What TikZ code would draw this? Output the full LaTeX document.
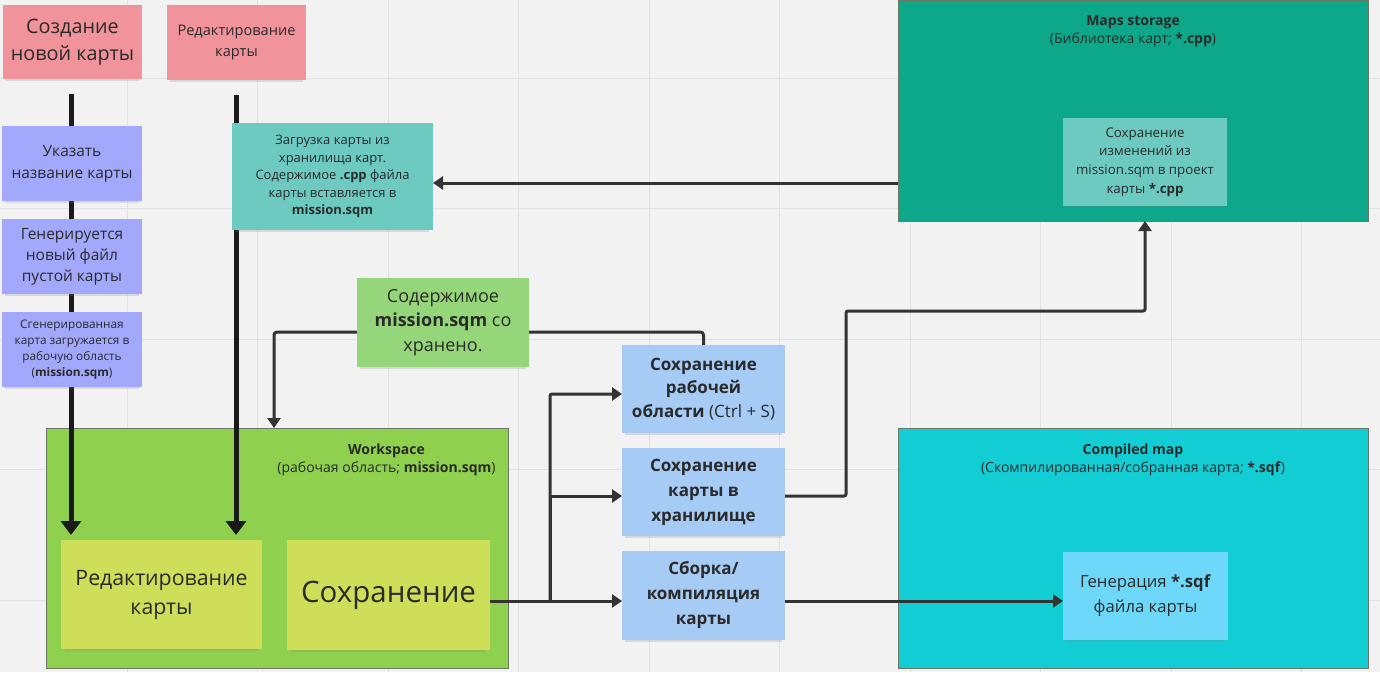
\documentclass[tikz,border=0pt]{standalone}
\usepackage{fontspec}
\setmainfont{Open Sans}
\usetikzlibrary{arrows.meta,shadows,calc}
\definecolor{bgc}{HTML}{F2F2F2}
\definecolor{gridc}{HTML}{E2E2E2}
\definecolor{txt}{HTML}{2A2A2A}
\definecolor{pinkn}{HTML}{F1939B}
\definecolor{purpn}{HTML}{A2A9FC}
\definecolor{tealn}{HTML}{6DCAC0}
\definecolor{greenn}{HTML}{96D67A}
\definecolor{wsc}{HTML}{8FD14F}
\definecolor{yellown}{HTML}{CEDE58}
\definecolor{bluen}{HTML}{A6CCF5}
\definecolor{msc}{HTML}{0DA789}
\definecolor{cmc}{HTML}{12CDD4}
\definecolor{cyann}{HTML}{6DD8FA}
\definecolor{blk}{HTML}{1A1A1A}
\definecolor{conc}{HTML}{333333}
\definecolor{bordc}{HTML}{6B7866}
\pgfdeclarelayer{gridlayer}
\pgfdeclarelayer{contlayer}
\pgfdeclarelayer{linelayer}
\pgfsetlayers{gridlayer,contlayer,linelayer,main}
\begin{document}
\begin{tikzpicture}[x=1pt,y=-1pt,
  note/.style={align=center, text=txt, inner sep=2pt, outer sep=0pt,
    drop shadow={shadow xshift=0pt,shadow yshift=-4pt,shadow scale=0.96,opacity=0.22}},
  container/.style={draw=bordc, line width=1pt, inner sep=0pt, outer sep=0pt},
  ctitle/.style={align=center, text=txt, font=\fontsize{14}{18}\selectfont},
  thickarrow/.style={draw=blk, line width=5pt, -{Triangle[length=14pt,width=20pt]}},
  conn/.style={draw=conc, line width=3pt, -{Triangle[length=10pt,width=13pt]}},
  connline/.style={draw=conc, line width=3pt}
]
\useasboundingbox (0,0) rectangle (1380,672);
\begin{pgfonlayer}{gridlayer}
  \fill[bgc] (0,0) rectangle (1380,672);
  \foreach \gx in {127,257.5,388,518.5,649,779.5,910,1040.5,1171,1301.5}
    \draw[gridc, line width=1pt] (\gx,0) -- (\gx,672);
  \foreach \gy in {78,208.5,339,469.5,600}
    \draw[gridc, line width=1pt] (0,\gy) -- (1380,\gy);
\end{pgfonlayer}

% containers
\begin{pgfonlayer}{contlayer}
  \node[container, fill=wsc, minimum width=462, minimum height=240] (ws) at (277,548) {};
  \node[container, fill=msc, minimum width=470, minimum height=221] (ms) at (1133,110.5) {};
  \node[container, fill=cmc, minimum width=470, minimum height=240] (cm) at (1133,548) {};
\end{pgfonlayer}
\node[ctitle] (wst) at (386.5,460) {\textbf{Workspace}\\(рабочая область; \textbf{mission.sqm})};
\node[ctitle] (mst) at (1133,31) {\textbf{Maps storage}\\(Библиотека карт; \textbf{*.cpp})};
\node[ctitle] (cmt) at (1133,460) {\textbf{Compiled map}\\(Скомпилированная/собранная карта; \textbf{*.sqf})};

% notes
\node[note, fill=pinkn, minimum width=139, minimum height=74, font=\fontsize{19.8}{27}\selectfont] (cn) at (72.5,42) {Создание\\новой карты};
\node[note, fill=pinkn, minimum width=139, minimum height=75, font=\fontsize{14.6}{21}\selectfont] (ed) at (236.5,42.5) {Редактирование\\карты};
\node[note, fill=purpn, minimum width=140, minimum height=75, font=\fontsize{15.5}{22}\selectfont] (uk) at (72,163.5) {Указать\\название карты};
\node[note, fill=purpn, minimum width=140, minimum height=75, font=\fontsize{15.5}{21}\selectfont] (gen) at (72,256.5) {Генерируется\\новый файл\\пустой карты};
\node[note, fill=purpn, minimum width=140, minimum height=75, font=\fontsize{11.8}{16}\selectfont] (sg) at (72,349.5) {Сгенерированная\\карта загружается в\\рабочую область\\(\textbf{mission.sqm})};
\node[note, fill=tealn, minimum width=201, minimum height=107, font=\fontsize{13}{17.5}\selectfont] (load) at (332.5,176.5) {Загрузка карты из\\хранилища карт.\\Содержимое \textbf{.cpp} файла\\карты вставляется в\\\textbf{mission.sqm}};
\node[note, fill=greenn, minimum width=172, minimum height=89, font=\fontsize{18}{24.5}\selectfont] (saved) at (443,322.5) {Содержимое\\\textbf{mission.sqm} со\\хранено.};
\node[note, fill=yellown, minimum width=201, minimum height=109, font=\fontsize{21.3}{29}\selectfont] (edit) at (161.5,594.5) {Редактирование\\карты};
\node[note, fill=yellown, minimum width=203, minimum height=110, font=\fontsize{29.5}{35}\selectfont] (save) at (388.5,595) {Сохранение};
\node[note, fill=bluen, minimum width=163, minimum height=88, font=\fontsize{17}{23.5}\selectfont] (sw) at (703.5,389) {\textbf{Сохранение}\\\textbf{рабочей}\\\textbf{области} (Ctrl + S)};
\node[note, fill=bluen, minimum width=163, minimum height=88, font=\fontsize{17}{25}\selectfont\bfseries] (sm) at (703.5,492) {Сохранение\\карты в\\хранилище};
\node[note, fill=bluen, minimum width=163, minimum height=89, font=\fontsize{17}{25}\selectfont\bfseries] (bc) at (703.5,595.5) {Сборка/\\компиляция\\карты};
\node[note, fill=tealn, minimum width=164, minimum height=88, font=\fontsize{13.3}{18.7}\selectfont] (msn) at (1145,162) {Сохранение\\изменений из\\mission.sqm в проект\\карты \textbf{*.cpp}};
\node[note, fill=cyann, minimum width=165, minimum height=88, font=\fontsize{16.7}{25}\selectfont] (gsn) at (1145.5,596) {Генерация \textbf{*.sqf}\\файла карты};

\coordinate (j) at (550,601);
\begin{pgfonlayer}{linelayer}
  \draw[thickarrow, shorten <=15pt, shorten >=5pt] ([xshift=-1.5pt]cn.south) -- ([xshift=-1.5pt]cn.south |- edit.north);
  \draw[thickarrow, shorten <=15pt, shorten >=5pt] ([xshift=-0.5pt]ed.south) -- ([xshift=-0.5pt]ed.south |- edit.north);
  \draw[conn] (ms.west |- 0,183) -- (load.east |- 0,183);
  \draw[conn, rounded corners=3pt] (sw.north) -- (sw.north |- 0,332) -| (ws.north -| 274,0);
  \draw[connline] (save.east |- j) -- (j);
  \draw[conn] (j) -- (bc.west |- j);
  \draw[conn] (j) |- (sm.west |- 0,496);
  \draw[conn, rounded corners=2pt] (j) |- (sw.west |- 0,394);
  \draw[conn, rounded corners=2pt] (sm.east |- 0,496) -| (846,311) -| (ms.south -| msn.south);
  \draw[conn] (bc.east |- j) -- (gsn.west |- j);
\end{pgfonlayer}
\end{tikzpicture}
\end{document}
